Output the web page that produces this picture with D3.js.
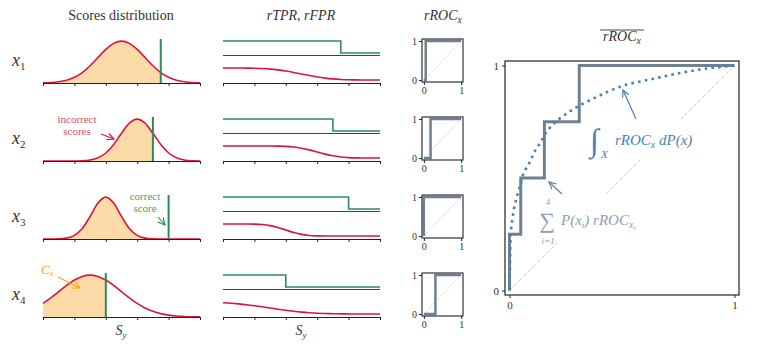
<!DOCTYPE html>
<html>
<head>
<meta charset="utf-8">
<script src="https://cdn.jsdelivr.net/npm/d3@7"></script>
<style>
body { margin: 0; background: #fff; }
svg text { font-family: 'Liberation Serif' !important; }
</style>
</head>
<body>
<script>
var svgWidth = 762;
var svgHeight = 348;

// score grid (S_y) used by both left columns
var scoreGrid = [0, 0.25, 0.5, 0.75, 1, 1.25, 1.5, 1.75, 2, 2.25, 2.5, 2.75, 3, 3.25, 3.5, 3.75, 4, 4.25, 4.5, 4.75, 5];

// incorrect-score densities, one row per x_i (peak scaled to 1)
var density1 = [.004, .011, .029, .066, .135, .249, .411, .607, .801, .946, 1, .946, .801, .607, .411, .249, .135, .066, .029, .011, .004];
var density2 = [0, 0, 0, 0, .001, .006, .024, .076, .191, .395, .662, .902, 1, .902, .662, .395, .191, .076, .024, .006, .001];
var density3 = [0, .001, .004, .021, .085, .249, .539, .857, 1, .857, .539, .249, .085, .021, .004, .001, 0, 0, 0, 0, 0];
var density4 = [.325, .458, .607, .755, .882, .969, 1, .969, .882, .755, .607, .458, .325, .216, .135, .08, .044, .023, .011, .005, .002];

// rFPR curves
var rfpr1 = [1, .999, .996, .99, .977, .952, .909, .841, .748, .631, .5, .369, .252, .159, .091, .048, .023, .01, .004, .001, 0];
var rfpr2 = [1, 1, 1, 1, 1, .999, .997, .988, .966, .913, .818, .675, .5, .325, .182, .087, .034, .012, .003, .001, 0];
var rfpr3 = [1, 1, 1, .997, .987, .952, .867, .711, .5, .289, .133, .048, .013, .003, .001, 0, 0, 0, 0, 0, 0];
var rfpr4 = [.933, .894, .841, .773, .691, .599, .5, .401, .309, .227, .159, .106, .067, .04, .023, .012, .006, .003, .001, .001, 0];

// correct score of each x_i, and the FPR where each rROC jumps to 1
var correctScore = [3.75, 3.5, 4.0, 2.0];
var jumpFpr = [0.05, 0.18, 0.0, 0.31];

// averaged step curve and the integral curve (big panel)
var avgFpr = [0, 0, 0.05, 0.155, 0.31, 1];
var avgTpr = [0, 0.25, 0.5, 0.75, 1, 1];
var intFpr = [0, 0.002, 0.004, 0.007, 0.014, 0.021, 0.032, 0.047, 0.061, 0.091, 0.113, 0.136, 0.165, 0.202, 0.239, 0.313, 0.387, 0.461, 0.513, 0.639, 0.787, 0.904, 1];
var intTpr = [0, 0.1, 0.2, 0.27, 0.325, 0.37, 0.414, 0.466, 0.517, 0.572, 0.62, 0.655, 0.705, 0.746, 0.776, 0.823, 0.86, 0.894, 0.913, 0.941, 0.972, 0.99, 1];

var densities = [density1, density2, density3, density4];
var rfprs = [rfpr1, rfpr2, rfpr3, rfpr4];

var rowBase = [83, 161, 239, 317];

var red = "#dc143c", green = "#2e8b57", orange = "#ffa500", fillOrange = "#fddba8";
var slate = "#708090", steel = "#4682b4";

var svg = d3.select("body")
    .append("svg")
    .attr("width", svgWidth)
    .attr("height", svgHeight)
    .attr("font-family", "Liberation Serif");

// every label goes through here so it gets the serif face
function label(x, y, size) {
    return svg.append("text")
        .attr("x", x).attr("y", y)
        .attr("font-size", size)
        .attr("font-family", "Liberation Serif")
        .style("font-family", "'Liberation Serif'")
        .attr("fill", "#333");
}

// arrow heads
var defs = svg.append("defs");
function addMarker(id, color) {
    defs.append("marker")
        .attr("id", id)
        .attr("viewBox", "0 0 8 8")
        .attr("refX", 7).attr("refY", 4)
        .attr("markerWidth", 8).attr("markerHeight", 8)
        .attr("markerUnits", "userSpaceOnUse")
        .attr("orient", "auto")
        .append("path")
        .attr("d", "M0,0.5 L7,4 L0,7.5")
        .attr("fill", "none")
        .attr("stroke", color)
        .attr("stroke-width", 1.2);
}
addMarker("arRed", red);
addMarker("arGreen", green);
addMarker("arOrange", orange);
addMarker("arSlate", slate);
addMarker("arSteel", steel);

var scoreX = d3.scaleLinear().domain([0, 5]).range([43, 200]);
var rateX = d3.scaleLinear().domain([0, 5]).range([223, 380]);

function styleAxis(g) {
    g.attr("font-family", "Liberation Serif");
    g.select(".domain").attr("stroke", "#222").attr("stroke-width", 1.2);
    g.selectAll(".tick line").attr("stroke", "#222").attr("stroke-width", 1);
    g.selectAll(".tick text").attr("fill", "#333").style("font-family", "'Liberation Serif'");
}

// titles
label(121, 20, 14).attr("text-anchor", "middle").text("Scores distribution");
label(301, 20, 14).attr("text-anchor", "middle").attr("font-style", "italic").text("rTPR, rFPR");
var t3 = label(443, 20, 14).attr("text-anchor", "middle").attr("font-style", "italic");
t3.append("tspan").text("rROC");
t3.append("tspan").attr("font-size", 10).attr("dy", 3).text("x");

rowBase.forEach(function(A, i) {
    var dens = densities[i];
    var yDens = d3.scaleLinear().domain([0, 1.05]).range([A, A - 44]);

    // row label x_i
    var lab = label(12, A - 17, 18).attr("font-style", "italic");
    lab.append("tspan").text("x");
    lab.append("tspan").attr("font-size", 11).attr("font-style", "normal").attr("dy", 4).text(i + 1);

    // ---- scores distribution ----
    var clipId = "clip" + i;
    defs.append("clipPath").attr("id", clipId).append("rect")
        .attr("x", scoreX(0)).attr("y", A - 50)
        .attr("width", scoreX(correctScore[i]) - scoreX(0)).attr("height", 50);

    var area = d3.area()
        .x((d, j) => scoreX(scoreGrid[j]))
        .y0(A)
        .y1(d => yDens(d))
        .curve(d3.curveMonotoneX);
    svg.append("path").datum(dens)
        .attr("d", area)
        .attr("fill", fillOrange)
        .attr("clip-path", "url(#" + clipId + ")");

    svg.append("path").datum(dens)
        .attr("d", d3.line().x((d, j) => scoreX(scoreGrid[j])).y(d => yDens(d)).curve(d3.curveMonotoneX))
        .attr("fill", "none").attr("stroke", red).attr("stroke-width", 1.6);

    svg.append("line")
        .attr("x1", scoreX(correctScore[i])).attr("x2", scoreX(correctScore[i]))
        .attr("y1", A).attr("y2", A - 44)
        .attr("stroke", green).attr("stroke-width", 2);

    svg.append("g").attr("transform", `translate(0, ${A})`)
        .call(d3.axisBottom(scoreX).tickValues([0, 1, 2, 3, 4, 5]).tickSize(3).tickSizeOuter(0).tickFormat(""))
        .call(styleAxis);

    // ---- rTPR / rFPR ----
    var yTpr = d3.scaleLinear().domain([0, 1]).range([A - 30, A - 42]);
    var yFpr = d3.scaleLinear().domain([0, 1]).range([A - 3, A - 15]);

    svg.append("line")
        .attr("x1", rateX(0)).attr("x2", rateX(5))
        .attr("y1", A - 27.5).attr("y2", A - 27.5)
        .attr("stroke", "#444").attr("stroke-width", 1.1);

    var c = correctScore[i];
    var tprPts = [[0, 1], [c, 1], [c, 0], [5, 0]];
    svg.append("path").datum(tprPts)
        .attr("d", d3.line().x(d => rateX(d[0])).y(d => yTpr(d[1])))
        .attr("fill", "none").attr("stroke", green).attr("stroke-width", 1.6);

    svg.append("path").datum(rfprs[i])
        .attr("d", d3.line().x((d, j) => rateX(scoreGrid[j])).y(d => yFpr(d)).curve(d3.curveMonotoneX))
        .attr("fill", "none").attr("stroke", red).attr("stroke-width", 1.6);

    svg.append("g").attr("transform", `translate(0, ${A})`)
        .call(d3.axisBottom(rateX).tickValues([0, 1, 2, 3, 4, 5]).tickSize(3).tickSizeOuter(0).tickFormat(""))
        .call(styleAxis);

    // ---- small rROC_x ----
    var rx = d3.scaleLinear().domain([-0.05, 1.05]).range([422, 463]);
    var ry = d3.scaleLinear().domain([-0.05, 1.05]).range([A - 1, A - 44]);

    svg.append("line")
        .attr("x1", rx(0)).attr("y1", ry(0)).attr("x2", rx(1)).attr("y2", ry(1))
        .attr("stroke", "#c8c8c8").attr("stroke-width", 0.8).attr("stroke-dasharray", "2,1.5");

    var f = jumpFpr[i];
    svg.append("path").datum([[0, 0], [f, 0], [f, 1], [1, 1]])
        .attr("d", d3.line().x(d => rx(d[0])).y(d => ry(d[1])))
        .attr("fill", "none").attr("stroke", slate).attr("stroke-width", 2.5);

    svg.append("rect")
        .attr("x", 422).attr("y", A - 44).attr("width", 41).attr("height", 43)
        .attr("fill", "none").attr("stroke", "#222").attr("stroke-width", 1.1);

    svg.append("g").attr("transform", `translate(0, ${A - 1})`)
        .call(d3.axisBottom(rx).tickValues([0, 1]).tickFormat(d3.format("d")).tickSize(3).tickSizeOuter(0))
        .call(styleAxis)
        .call(g => g.select(".domain").remove())
        .call(g => g.selectAll(".tick text").attr("font-size", 10).attr("y", 5));
    svg.append("g").attr("transform", "translate(422, 0)")
        .call(d3.axisLeft(ry).tickValues([0, 1]).tickFormat(d3.format("d")).tickSize(3).tickSizeOuter(0))
        .call(styleAxis)
        .call(g => g.select(".domain").remove())
        .call(g => g.selectAll(".tick text").attr("font-size", 10).attr("x", -5));
});

// S_y labels
[121, 301].forEach(function(cx) {
    var s = label(cx, 335, 14).attr("text-anchor", "middle").attr("font-style", "italic");
    s.append("tspan").text("S");
    s.append("tspan").attr("font-size", 9).attr("dy", 3).text("y");
});

// annotations in the left column
label(77, 123, 11).attr("text-anchor", "middle").attr("fill", "#e0506a").text("incorrect");
label(77, 135, 11).attr("text-anchor", "middle").attr("fill", "#e0506a").text("scores");
svg.append("line").attr("x1", 101).attr("y1", 134).attr("x2", 114).attr("y2", 139)
    .attr("stroke", red).attr("stroke-width", 1.1).attr("marker-end", "url(#arRed)");

label(145, 200, 11).attr("text-anchor", "middle").attr("fill", "#4a9f6e").text("correct");
label(145, 212, 11).attr("text-anchor", "middle").attr("fill", "#4a9f6e").text("score");
svg.append("line").attr("x1", 158).attr("y1", 217).attr("x2", 165).attr("y2", 225)
    .attr("stroke", green).attr("stroke-width", 1.1).attr("marker-end", "url(#arGreen)");

var cxl = label(41, 274, 13).attr("font-style", "italic").attr("fill", orange);
cxl.append("tspan").text("C");
cxl.append("tspan").attr("font-size", 8).attr("dy", 2).text("x");
svg.append("line").attr("x1", 58).attr("y1", 277).attr("x2", 80).attr("y2", 288)
    .attr("stroke", orange).attr("stroke-width", 1.1).attr("marker-end", "url(#arOrange)");

// ---- big averaged rROC panel ----
var bx = d3.scaleLinear().domain([-0.02, 1.02]).range([505, 739]);
var by = d3.scaleLinear().domain([-0.02, 1.02]).range([295, 61]);

var tb = label(622, 41, 14).attr("text-anchor", "middle").attr("font-style", "italic");
tb.append("tspan").text("rROC");
tb.append("tspan").attr("font-size", 10).attr("dy", 3).text("x");
svg.append("line").attr("x1", 600).attr("x2", 644).attr("y1", 30).attr("y2", 30)
    .attr("stroke", "#333").attr("stroke-width", 0.9);

svg.append("line")
    .attr("x1", bx(0)).attr("y1", by(0)).attr("x2", bx(1)).attr("y2", by(1))
    .attr("stroke", "#c8c8c8").attr("stroke-width", 0.9).attr("stroke-dasharray", "4,2.5");

// white boxes behind the two formulas
svg.append("rect").attr("x", 588).attr("y", 119).attr("width", 110).attr("height", 41).attr("fill", "#fff");
svg.append("rect").attr("x", 534).attr("y", 196).attr("width", 108).attr("height", 47).attr("fill", "#fff");

svg.append("path").datum(d3.zip(avgFpr, avgTpr))
    .attr("d", d3.line().x(d => bx(d[0])).y(d => by(d[1])).curve(d3.curveStepAfter))
    .attr("fill", "none").attr("stroke", slate).attr("stroke-width", 3);

svg.append("path").datum(d3.zip(intFpr, intTpr))
    .attr("d", d3.line().x(d => bx(d[0])).y(d => by(d[1])).curve(d3.curveMonotoneY))
    .attr("fill", "none").attr("stroke", steel).attr("stroke-width", 2.6)
    .attr("stroke-dasharray", "2.6,4.2");

svg.append("rect").attr("x", 505).attr("y", 61).attr("width", 234).attr("height", 234)
    .attr("fill", "none").attr("stroke", "#222").attr("stroke-width", 1.2);

svg.append("g").attr("transform", "translate(0, 295)")
    .call(d3.axisBottom(bx).tickValues([0, 1]).tickFormat(d3.format("d")).tickSize(3).tickSizeOuter(0))
    .call(styleAxis)
    .call(g => g.select(".domain").remove())
    .call(g => g.selectAll(".tick text").attr("font-size", 11).attr("y", 6));
svg.append("g").attr("transform", "translate(505, 0)")
    .call(d3.axisLeft(by).tickValues([0, 1]).tickFormat(d3.format("d")).tickSize(3).tickSizeOuter(0))
    .call(styleAxis)
    .call(g => g.select(".domain").remove())
    .call(g => g.selectAll(".tick text").attr("font-size", 11).attr("x", -6));

// integral annotation
label(590, 151, 32).attr("fill", steel).attr("font-style", "italic").text("\u222B");
label(601, 158, 11).attr("fill", steel).attr("font-style", "italic").text("X");
var ia = label(615, 145, 15).attr("font-style", "italic").attr("fill", steel);
ia.append("tspan").text("rROC");
ia.append("tspan").attr("font-size", 10).attr("dy", 3).text("x");
ia.append("tspan").attr("dy", -3).text(" dP(x)");
svg.append("line").attr("x1", 636).attr("y1", 119).attr("x2", 623).attr("y2", 90)
    .attr("stroke", steel).attr("stroke-width", 1.2).attr("marker-end", "url(#arSteel)");

// sum annotation
var sumColor = "#8d9db2";
label(547, 228, 22).attr("text-anchor", "middle").attr("fill", sumColor).text("\u2211");
label(548, 205, 9).attr("text-anchor", "middle").attr("fill", sumColor).text("4");
label(548, 244, 9).attr("text-anchor", "middle").attr("fill", sumColor).attr("font-style", "italic").text("i=1");
var sa = label(561, 225, 15).attr("font-style", "italic").attr("fill", sumColor);
sa.append("tspan").text("P(x");
sa.append("tspan").attr("font-size", 9).attr("dy", 3).text("i");
sa.append("tspan").attr("dy", -3).text(") rROC");
sa.append("tspan").attr("font-size", 10).attr("dy", 3).text("x");
sa.append("tspan").attr("font-size", 7).attr("dy", 2).text("i");
svg.append("line").attr("x1", 562).attr("y1", 194).attr("x2", 549).attr("y2", 182)
    .attr("stroke", slate).attr("stroke-width", 1.2).attr("marker-end", "url(#arSlate)");
</script>
</body>
</html>
